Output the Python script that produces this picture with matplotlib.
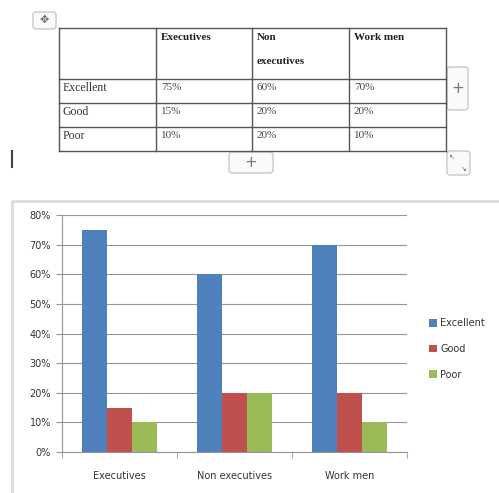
import matplotlib
matplotlib.use("Agg")
import matplotlib.pyplot as plt
from matplotlib.patches import FancyBboxPatch
from matplotlib.ticker import PercentFormatter, FixedLocator

# ---- data ----
groups = ["Executives", "Non executives", "Work men"]
table_headers = ["Executives", "Non\nexecutives", "Work men"]
ratings = ["Excellent", "Good", "Poor"]
excellent = [75, 60, 70]
good = [15, 20, 20]
poor = [10, 20, 10]
series = [excellent, good, poor]
colors = ["#4F81BD", "#C0504D", "#9BBB59"]
yticks = [0, 10, 20, 30, 40, 50, 60, 70, 80]

W, H = 499, 493
fig = plt.figure(figsize=(W / 100, H / 100), dpi=100)
fig.patch.set_facecolor("white")

# overlay in pixel coordinates
ov = fig.add_axes([0, 0, 1, 1])
ov.set_xlim(0, W)
ov.set_ylim(H, 0)
ov.axis("off")

# ---- table ----
col_x = [59, 156, 252, 349, 446]
row_y = [28, 79, 103, 127, 151]
lc = "#555555"
for x in col_x:
    ov.plot([x, x], [row_y[0], row_y[-1]], color=lc, lw=1.0)
for y in row_y:
    ov.plot([col_x[0], col_x[-1]], [y, y], color=lc, lw=1.0)

serif = "Liberation Serif"
for j, h in enumerate(table_headers):
    lines = h.split("\n")
    for k, ln in enumerate(lines):
        ov.text(col_x[j + 1] + 5, 38 + k * 24, ln, fontfamily=serif, fontsize=8,
                fontweight="bold", va="center", ha="left", color="#222222")
for i, r in enumerate(ratings):
    yc = (row_y[i + 1] + row_y[i + 2]) / 2 - 3
    ov.text(col_x[0] + 4, yc, r, fontfamily=serif, fontsize=8.5,
            va="center", ha="left", color="#333333")
    for j in range(len(groups)):
        ov.text(col_x[j + 1] + 5, yc, f"{series[i][j]}%", fontfamily=serif,
                fontsize=8, va="center", ha="left", color="#444444")

# Word table icons
def icon_box(x0, y0, x1, y1):
    ov.add_patch(FancyBboxPatch((x0, y0), x1 - x0, y1 - y0,
                                boxstyle="round,pad=0,rounding_size=3",
                                fc="#fafafa", ec="#c8c8c8", lw=1.0))

icon_box(447, 67, 468, 110)
ov.text(457.5, 88.5, "+", ha="center", va="center", fontsize=11, color="#777777")
icon_box(229, 152, 273, 173)
ov.text(251, 162.5, "+", ha="center", va="center", fontsize=11, color="#777777")
icon_box(447, 151, 470, 175)
ov.text(452, 157, "\u2196", ha="center", va="center", fontsize=5, color="#666666")
ov.text(464, 169, "\u2198", ha="center", va="center", fontsize=5, color="#666666")
icon_box(33, 12, 56, 29)
ov.text(44.5, 20, "\u2725", ha="center", va="center", fontsize=8, color="#666666")

# text cursor
ov.plot([12.5, 12.5], [151, 167], color="#444444", lw=1.5)

# chart frame
ov.plot([12, 12, W + 5], [H + 5, 201, 201], color="#dcdcdc", lw=2)

# ---- chart ----
x0, x1 = 62, 407
y0, y1 = 215, 452
ax = fig.add_axes([x0 / W, 1 - y1 / H, (x1 - x0) / W, (y1 - y0) / H])
ax.set_facecolor("none")
n = len(groups)
bw = 0.217
xs = list(range(n))
for k, (vals, c) in enumerate(zip(series, colors)):
    ax.bar([x + (k - 1) * bw for x in xs], vals, width=bw, color=c,
           zorder=3, label=ratings[k])
ax.set_xlim(-0.5, n - 0.5)
ax.set_ylim(0, 80)
ax.set_yticks(yticks)
ax.yaxis.set_major_formatter(PercentFormatter(decimals=0))
ax.grid(axis="y", color="#959595", lw=0.8, zorder=0)
ax.set_xticks(xs)
ax.set_xticklabels(groups)
ax.xaxis.set_minor_locator(FixedLocator([i - 0.5 for i in range(n + 1)]))
ax.tick_params(axis="x", which="major", length=0, pad=14, labelsize=7, labelcolor="#333333")
ax.tick_params(axis="x", which="minor", length=4, color="#959595")
ax.tick_params(axis="y", length=4, color="#959595", labelsize=7, labelcolor="#333333", pad=4)
for s in ["top", "right"]:
    ax.spines[s].set_visible(False)
ax.spines["left"].set_color("#959595")
ax.spines["bottom"].set_color("#959595")

handles, labels = ax.get_legend_handles_labels()
fig.legend(handles, labels, loc="center left",
           bbox_to_anchor=(420 / W, 1 - 349 / H), frameon=False,
           fontsize=7, handlelength=0.8, handleheight=0.8, handletextpad=0.4,
           labelspacing=1.6, labelcolor="#333333")

fig.savefig("out.png", dpi=100, facecolor="white")
